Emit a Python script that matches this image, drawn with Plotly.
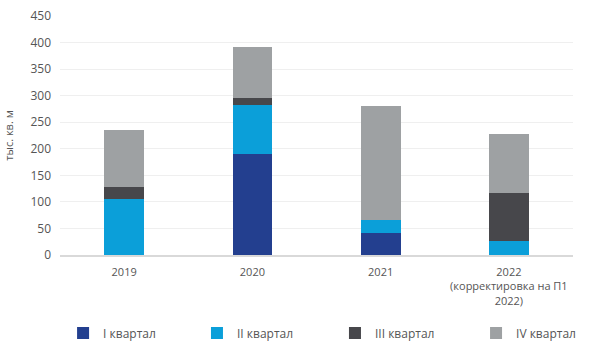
import plotly.graph_objects as go

categories = ["2019", "2020", "2021", "2022<br>(корректировка на П1<br>2022)"]
q1 = [0, 190, 41, 0]
q2 = [105, 93, 24, 26]
q3 = [23, 13, 0, 91]
q4 = [108, 95, 215, 110]
series_names = ["I квартал", "II квартал", "III квартал", "IV квартал"]
colors = ["#233F8F", "#0B9FD9", "#47474B", "#9EA1A3"]
y_ticks = [0, 50, 100, 150, 200, 250, 300, 350, 400, 450]
legend_ids = ["legend", "legend2", "legend3", "legend4"]
legend_x = [0.006, 0.267, 0.536, 0.811]

fig = go.Figure()
for name, vals, col, lg in zip(series_names, [q1, q2, q3, q4], colors, legend_ids):
    fig.add_trace(go.Bar(x=categories, y=vals, name=name, marker_color=col,
                         marker_line_width=0, legend=lg))

legend_style = dict(orientation="h", xanchor="left", yref="container", y=0.054,
                    yanchor="middle", bgcolor="rgba(0,0,0,0)",
                    font=dict(size=12, color="#555555"))
layout_legends = {}
for lg, lx in zip(legend_ids, legend_x):
    layout_legends[lg] = dict(legend_style, x=lx)

fig.update_layout(
    width=600, height=352,
    barmode="stack", bargap=0.69,
    paper_bgcolor="white", plot_bgcolor="white",
    margin=dict(l=60, r=27, t=16, b=97, autoexpand=False),
    font=dict(family="Open Sans", color="#555555", size=12),
    showlegend=True,
    xaxis=dict(showgrid=False, showline=True, linecolor="#D9D9D9", linewidth=1.5,
               tickfont=dict(size=11, color="#555555"), ticks="", ticklabelstandoff=6,
               automargin=False),
    yaxis=dict(range=[0, 450], tickvals=y_ticks, showgrid=True, gridcolor="#EFEFEF",
               zeroline=False, ticks="", tickfont=dict(size=12, color="#555555"),
               ticklabelstandoff=8, automargin=False,
               title=dict(text="тыс. кв. м", font=dict(size=11, color="#555555"), standoff=14)),
    **layout_legends,
)

fig.write_html("out.html")
